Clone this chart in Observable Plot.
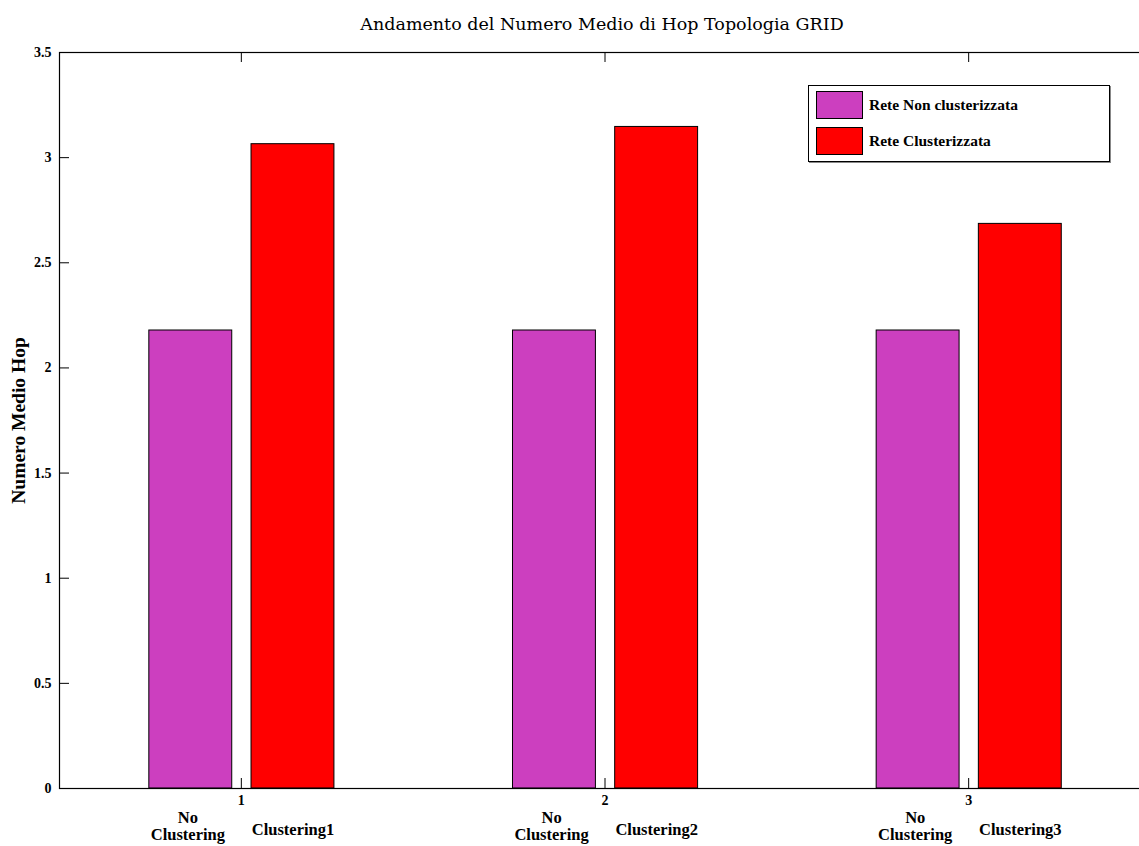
<!DOCTYPE html>
<html>
<head>
<meta charset="utf-8">
<script src="https://cdn.jsdelivr.net/npm/d3@7"></script>
<script src="https://cdn.jsdelivr.net/npm/@observablehq/plot@0.6"></script>
<style>
  html, body { margin: 0; padding: 0; background: #fff; overflow: hidden; }
  #wrap { position: relative; width: 1139px; height: 846px; overflow: hidden; }
  #chart svg { max-width: none !important; display: block; }
  #legend { position: absolute; left: 808px; top: 85px; width: 300px; height: 75px;
    border: 1px solid #000; box-shadow: 1px 1px 0 #888; background: #fff;
    font-family: "Liberation Serif", serif; font-weight: bold; font-size: 15.5px; }
  .item { position: absolute; left: 7px; display: flex; align-items: center; }
  .sw { width: 47px; height: 28px; border: 1px solid #000; box-sizing: border-box; margin-right: 6px; }
</style>
</head>
<body>
<div id="wrap"><div id="chart"></div><div id="legend"></div></div>
<script>
const title = "Andamento del Numero Medio di Hop Topologia GRID";
const yLabel = "Numero Medio Hop";
const groups = [1, 2, 3];
const seriesNames = ["Rete Non clusterizzata", "Rete Clusterizzata"];
const seriesColors = ["#cc3fbf", "#ff0000"];
const nonClustered = [2.178, 2.178, 2.178];
const clustered = [3.064, 3.146, 2.685];
const nonClusterLabels = ["No\nClustering", "No\nClustering", "No\nClustering"];
const clusterLabels = ["Clustering1", "Clustering2", "Clustering3"];
const yTicks = [0, 0.5, 1, 1.5, 2, 2.5, 3, 3.5];
const yTickLabels = ["0", "0.5", "1", "1.5", "2", "2.5", "3", "3.5"];

// bar placement within a group (in x units)
const barOffsets = [[-0.253, -0.025], [0.028, 0.256]];

const rows = [];
groups.forEach((g, i) => {
  rows.push({g, s: 0, v: nonClustered[i], label: nonClusterLabels[i]});
  rows.push({g, s: 1, v: clustered[i], label: clusterLabels[i]});
});

const W = 1151, H = 846, mT = 52, mB = 58, mL = 59, mR = 1;
const pw = W - mL - mR, ph = H - mT - mB;
const serif = "Liberation Serif, Times New Roman, serif";

const chart = Plot.plot({
  width: W, height: H,
  marginTop: mT, marginBottom: mB, marginLeft: mL, marginRight: mR,
  style: {fontFamily: serif, background: "#fff", maxWidth: "none"},
  x: {domain: [0.5, 3.5], axis: null},
  y: {domain: [0, 3.5], axis: null},
  marks: [
    Plot.rectY(rows, {
      x1: d => d.g + barOffsets[d.s][0],
      x2: d => d.g + barOffsets[d.s][1],
      y1: 0, y2: "v",
      fill: d => seriesColors[d.s],
      stroke: "#000", strokeWidth: 1
    }),
    Plot.frame({stroke: "#000", strokeWidth: 1.2}),
    // inward ticks
    Plot.tickY(yTicks, {y: d => d, insetRight: pw - 10, stroke: "#000"}),
    Plot.tickY(yTicks, {y: d => d, insetLeft: pw - 10, stroke: "#000"}),
    Plot.tickX(groups, {x: d => d, insetTop: ph - 10, stroke: "#000"}),
    Plot.tickX(groups, {x: d => d, insetBottom: ph - 10, stroke: "#000"}),
    // y tick labels
    Plot.text(yTicks, {y: d => d, text: (d, i) => yTickLabels[i], frameAnchor: "left",
      textAnchor: "end", dx: -8, fontWeight: "bold", fontSize: 14, fill: "#000"}),
    // x tick labels
    Plot.text(groups, {x: d => d, text: d => String(d), frameAnchor: "bottom",
      dy: 16, fontWeight: "bold", fontSize: 14, fill: "#000"}),
    // category labels
    Plot.text(rows.filter(d => d.s === 0), {
      x: d => d.g + (barOffsets[0][0] + barOffsets[0][1]) / 2 - 0.008, text: "label",
      frameAnchor: "bottom", lineAnchor: "top", dy: 22, lineHeight: 1.06,
      fontWeight: "bold", fontSize: 16.5, fill: "#000"}),
    Plot.text(rows.filter(d => d.s === 1), {
      x: d => d.g + (barOffsets[1][0] + barOffsets[1][1]) / 2, text: "label",
      frameAnchor: "bottom", lineAnchor: "middle", dy: 41,
      fontWeight: "bold", fontSize: 16.5, fill: "#000"}),
    // title
    Plot.text([title], {frameAnchor: "top", dy: -35, dx: -3, fontSize: 17.5,
      fontFamily: "DejaVu Serif, serif", fill: "#000"}),
    // y label
    Plot.text([yLabel], {frameAnchor: "left", textAnchor: "middle", dx: -41, rotate: -90,
      fontWeight: "bold", fontSize: 19.5, fill: "#000"})
  ]
});
document.getElementById("chart").appendChild(chart);

const legend = document.getElementById("legend");
seriesNames.forEach((name, i) => {
  const it = document.createElement("div");
  it.className = "item";
  it.style.top = (5 + i * 36) + "px";
  it.innerHTML = `<div class="sw" style="background:${seriesColors[i]}"></div><span>${name}</span>`;
  legend.appendChild(it);
});
</script>
</body>
</html>
